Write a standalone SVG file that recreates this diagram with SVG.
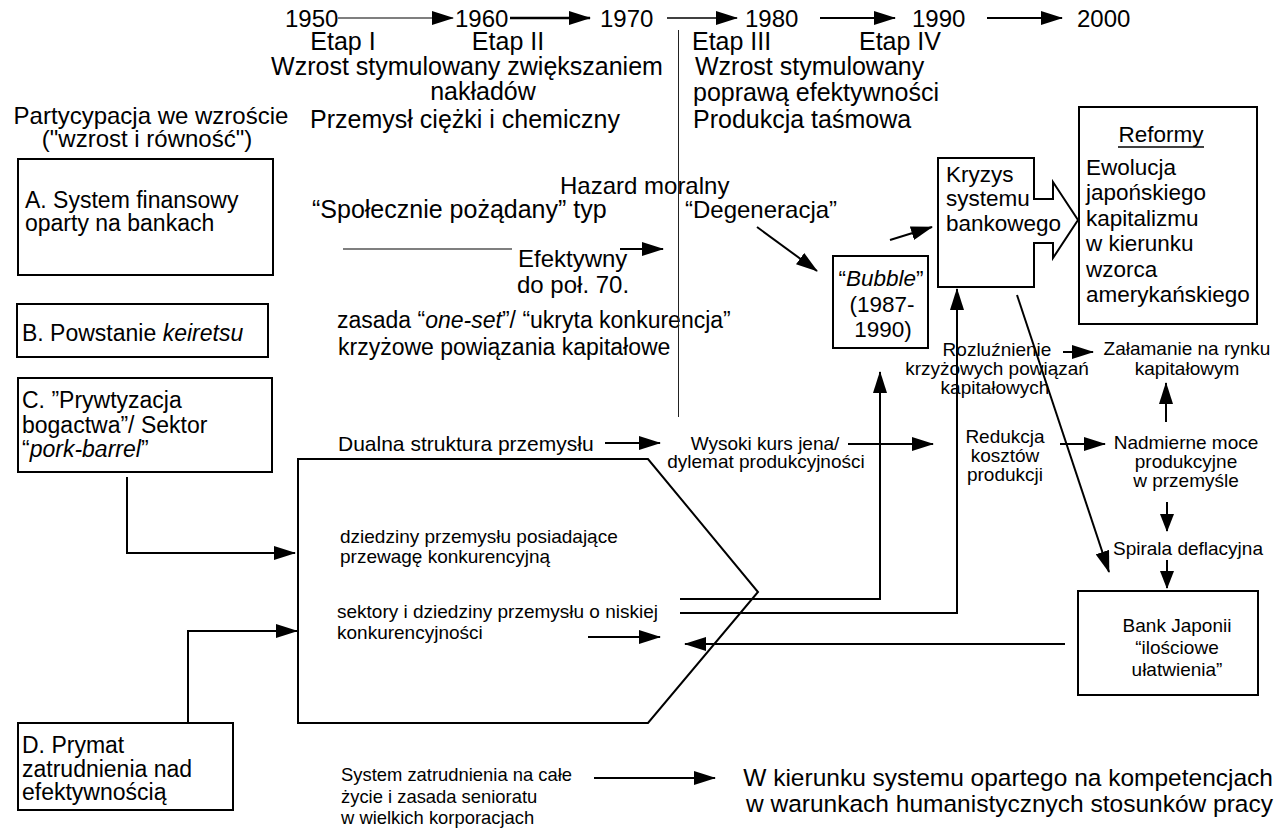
<svg xmlns="http://www.w3.org/2000/svg" width="1278" height="834" viewBox="0 0 1278 834">
<style>
text{font-family:"Liberation Sans",Arial,sans-serif;fill:#000}
.s25{font-size:25px}.s24{font-size:24px}.s23{font-size:23px}.s22{font-size:22.5px}.s21{font-size:21px}.s19{font-size:19px}.s18{font-size:18.4px}.s245{font-size:24.5px}
.m{text-anchor:middle}.e{text-anchor:end}
.box{fill:none;stroke:#000;stroke-width:2}
.ln{fill:none;stroke:#000;stroke-width:2}
.thin{fill:none;stroke:#000;stroke-width:1.2}
.arr{marker-end:url(#ah)}
.arrs{marker-end:url(#ahs)}
</style>
<defs>
<marker id="ah" markerUnits="userSpaceOnUse" viewBox="0 0 22 14" markerWidth="22" markerHeight="14" refX="21" refY="7" orient="auto"><path d="M0,0 L22,7 L0,14 z" fill="#000"/></marker>
<marker id="ahs" markerUnits="userSpaceOnUse" viewBox="0 0 18 14" markerWidth="18" markerHeight="14" refX="17" refY="7" orient="auto"><path d="M0,0 L18,7 L0,14 z" fill="#000"/></marker>
</defs>

<g id="timeline">
<text class="s24" x="285" y="27">1950</text>
<text class="s24" x="455" y="27">1960</text>
<text class="s24" x="600" y="27">1970</text>
<text class="s24" x="745" y="27">1980</text>
<text class="s24" x="912" y="27">1990</text>
<text class="s24" x="1077" y="27">2000</text>
</g>

<g id="etapy">
<text class="s25 m" x="343" y="50">Etap I</text>
<text class="s25 m" x="508" y="50">Etap II</text>
<text class="s25" x="692" y="50">Etap III</text>
<text class="s25 m" x="900" y="50">Etap IV</text>
<text class="s25 m" x="467" y="75">Wzrost stymulowany zwiększaniem</text>
<text class="s25 m" x="483" y="100">nakładów</text>
<text class="s25 m" x="465" y="128">Przemysł ciężki i chemiczny</text>
<text class="s25" x="695" y="75">Wzrost stymulowany</text>
<text class="s25" x="693" y="101">poprawą efektywności</text>
<text class="s25" x="693" y="128">Produkcja taśmowa</text>
</g>

<g id="partycypacja">
<text class="s24 m" x="151" y="124">Partycypacja we wzroście</text>
<text class="s24 m" x="147" y="147">("wzrost i równość")</text>
</g>

<g id="nodeA">
<rect class="box" x="18" y="159" width="255" height="116"/>
<text class="s23" x="25" y="208">A. System finansowy</text>
<text class="s23" x="25" y="231">oparty na bankach</text>
</g>

<g id="nodeB">
<rect class="box" x="17" y="304" width="251" height="53"/>
<text class="s23" x="22" y="341">B. Powstanie <tspan font-style="italic">keiretsu</tspan></text>
</g>

<g id="nodeC">
<rect class="box" x="18" y="378" width="254" height="94"/>
<text class="s23" x="22" y="408">C. ”Prywtyzacja</text>
<text class="s23" x="22" y="433">bogactwa”/ Sektor</text>
<text class="s23" x="22" y="457">“<tspan font-style="italic">pork-barrel</tspan>”</text>
</g>

<g id="nodeD">
<rect class="box" x="18" y="723" width="215" height="87"/>
<text class="s23" x="22" y="753">D. Prymat</text>
<text class="s23" x="22" y="777">zatrudnienia nad</text>
<text class="s23" x="22" y="800">efektywnością</text>
</g>

<g id="labels-mid">
<text class="s24" x="560" y="194">Hazard moralny</text>
<text class="s25" x="312" y="218">“Społecznie pożądany” typ</text>
<text class="s24" x="685" y="218">“Degeneracja”</text>
<text class="s24" x="518" y="267">Efektywny</text>
<text class="s24" x="517" y="293">do poł. 70.</text>
<text class="s23" x="337" y="328">zasada “<tspan font-style="italic">one-set</tspan>”/ “ukryta konkurencja”</text>
<text class="s23" x="338" y="355">krzyżowe powiązania kapitałowe</text>
<text class="s21" x="338" y="451">Dualna struktura przemysłu</text>
<text class="s19 m" x="765" y="450">Wysoki kurs jena/</text>
<text class="s19 m" x="766" y="468">dylemat produkcyjności</text>
<text class="s19 m" x="1005" y="443">Redukcja</text>
<text class="s19 m" x="1005" y="462">kosztów</text>
<text class="s19 m" x="1005" y="481">produkcji</text>
<text class="s19 m" x="1186" y="449">Nadmierne moce</text>
<text class="s19 m" x="1186" y="468">produkcyjne</text>
<text class="s19 m" x="1186" y="487">w przemyśle</text>
<text class="s19 m" x="1187" y="355">Załamanie na rynku</text>
<text class="s19 m" x="1187" y="375">kapitałowym</text>
<text class="s19 m" x="997" y="356">Rozluźnienie</text>
<text class="s19 m" x="997" y="375">krzyżowych powiązań</text>
<text class="s19 m" x="995" y="394">kapitałowych</text>
<text class="s19" x="1113" y="555">Spirala deflacyjna</text>
</g>

<g id="pentagon">
<path class="box" d="M298,459 H648 L758,592 L648,723 H298 Z"/>
<text class="s19" x="340" y="543">dziedziny przemysłu posiadające</text>
<text class="s19" x="340" y="563">przewagę konkurencyjną</text>
<text class="s19" x="337" y="618">sektory i dziedziny przemysłu o niskiej</text>
<text class="s19" x="337" y="639">konkurencyjności</text>
</g>

<g id="bubble">
<rect class="box" x="833" y="256" width="95" height="92"/>
<text class="s22 m" x="881" y="286">“<tspan font-style="italic">Bubble</tspan>”</text>
<text class="s22 m" x="882" y="312">(1987-</text>
<text class="s22 m" x="883" y="337">1990)</text>
</g>

<g id="kryzys">
<path class="box" d="M938,158 H1034 V199 H1053 V182 L1078,220 L1053,258 V243 H1034 V287 H938 Z"/>
<text class="s22" x="946" y="182">Kryzys</text>
<text class="s22" x="946" y="206">systemu</text>
<text class="s22" x="946" y="231">bankowego</text>
</g>

<g id="reformy">
<rect class="box" x="1079" y="107" width="178" height="217"/>
<text class="s22 m" x="1161" y="142">Reformy</text>
<line x1="1118" y1="147" x2="1204" y2="147" stroke="#000" stroke-width="1.5"/>
<text class="s22" x="1086" y="175">Ewolucja</text>
<text class="s22" x="1086" y="200">japońskiego</text>
<text class="s22" x="1086" y="226">kapitalizmu</text>
<text class="s22" x="1086" y="251">w kierunku</text>
<text class="s22" x="1086" y="277">wzorca</text>
<text class="s22" x="1086" y="302">amerykańskiego</text>
</g>

<g id="bank">
<rect class="box" x="1078" y="591" width="180" height="104"/>
<text class="s19 m" x="1177" y="632">Bank Japonii</text>
<text class="s19 m" x="1177" y="654">“ilościowe</text>
<text class="s19 m" x="1177" y="676">ułatwienia”</text>
</g>

<g id="bottom">
<text class="s18" x="341" y="781">System zatrudnienia na całe</text>
<text class="s18" x="341" y="803">życie i zasada senioratu</text>
<text class="s18" x="341" y="824">w wielkich korporacjach</text>
<text class="s245 e" x="1273" y="786">W kierunku systemu opartego na kompetencjach</text>
<text class="s245 e" x="1273" y="812">w warunkach humanistycznych stosunków pracy</text>
</g>

<g id="connectors">
<line class="thin arr" x1="338" y1="18" x2="453" y2="18"/>
<line class="ln arr" x1="510" y1="18" x2="590" y2="18" style="stroke-width:2.5"/>
<line class="ln arr" x1="667" y1="18" x2="737" y2="18" style="stroke-width:1.5"/>
<line class="ln arr" x1="820" y1="18" x2="895" y2="18"/>
<line class="ln arr" x1="987" y1="18" x2="1062" y2="18"/>
<line x1="678.5" y1="30" x2="678.5" y2="417" stroke="#222" stroke-width="1"/>
<line class="thin" x1="343" y1="249" x2="512" y2="249"/>
<line class="ln arr" x1="620" y1="249" x2="663" y2="249"/>
<line class="ln arr" x1="757" y1="227" x2="817" y2="271"/>
<line class="ln arr" x1="890" y1="240" x2="932" y2="227"/>
<line class="ln arr" x1="605" y1="443" x2="660" y2="443"/>
<line class="ln arr" x1="848" y1="444" x2="933" y2="444"/>
<line class="ln arr" x1="1060" y1="444" x2="1105" y2="444"/>
<line class="ln arr" x1="1166" y1="422" x2="1166" y2="383"/>
<line class="ln arr" x1="1063" y1="352" x2="1093" y2="352"/>
<line class="ln arrs" x1="1167" y1="502" x2="1167" y2="531"/>
<line class="ln arrs" x1="1167" y1="560" x2="1167" y2="588"/>
<line class="ln arr" x1="1017" y1="295" x2="1109" y2="572"/>
<path class="ln arr" d="M680,599 H880 V372"/>
<path class="ln arr" d="M680,613 H957 V289"/>
<line class="ln arr" x1="1065" y1="644" x2="685" y2="644"/>
<line class="ln arr" x1="588" y1="637" x2="660" y2="637"/>
<path class="ln arr" d="M127,477 V553 H295"/>
<path class="ln arr" d="M188,723 V631 H297"/>
<line class="ln arr" x1="594" y1="778" x2="715" y2="778"/>
</g>
</svg>
